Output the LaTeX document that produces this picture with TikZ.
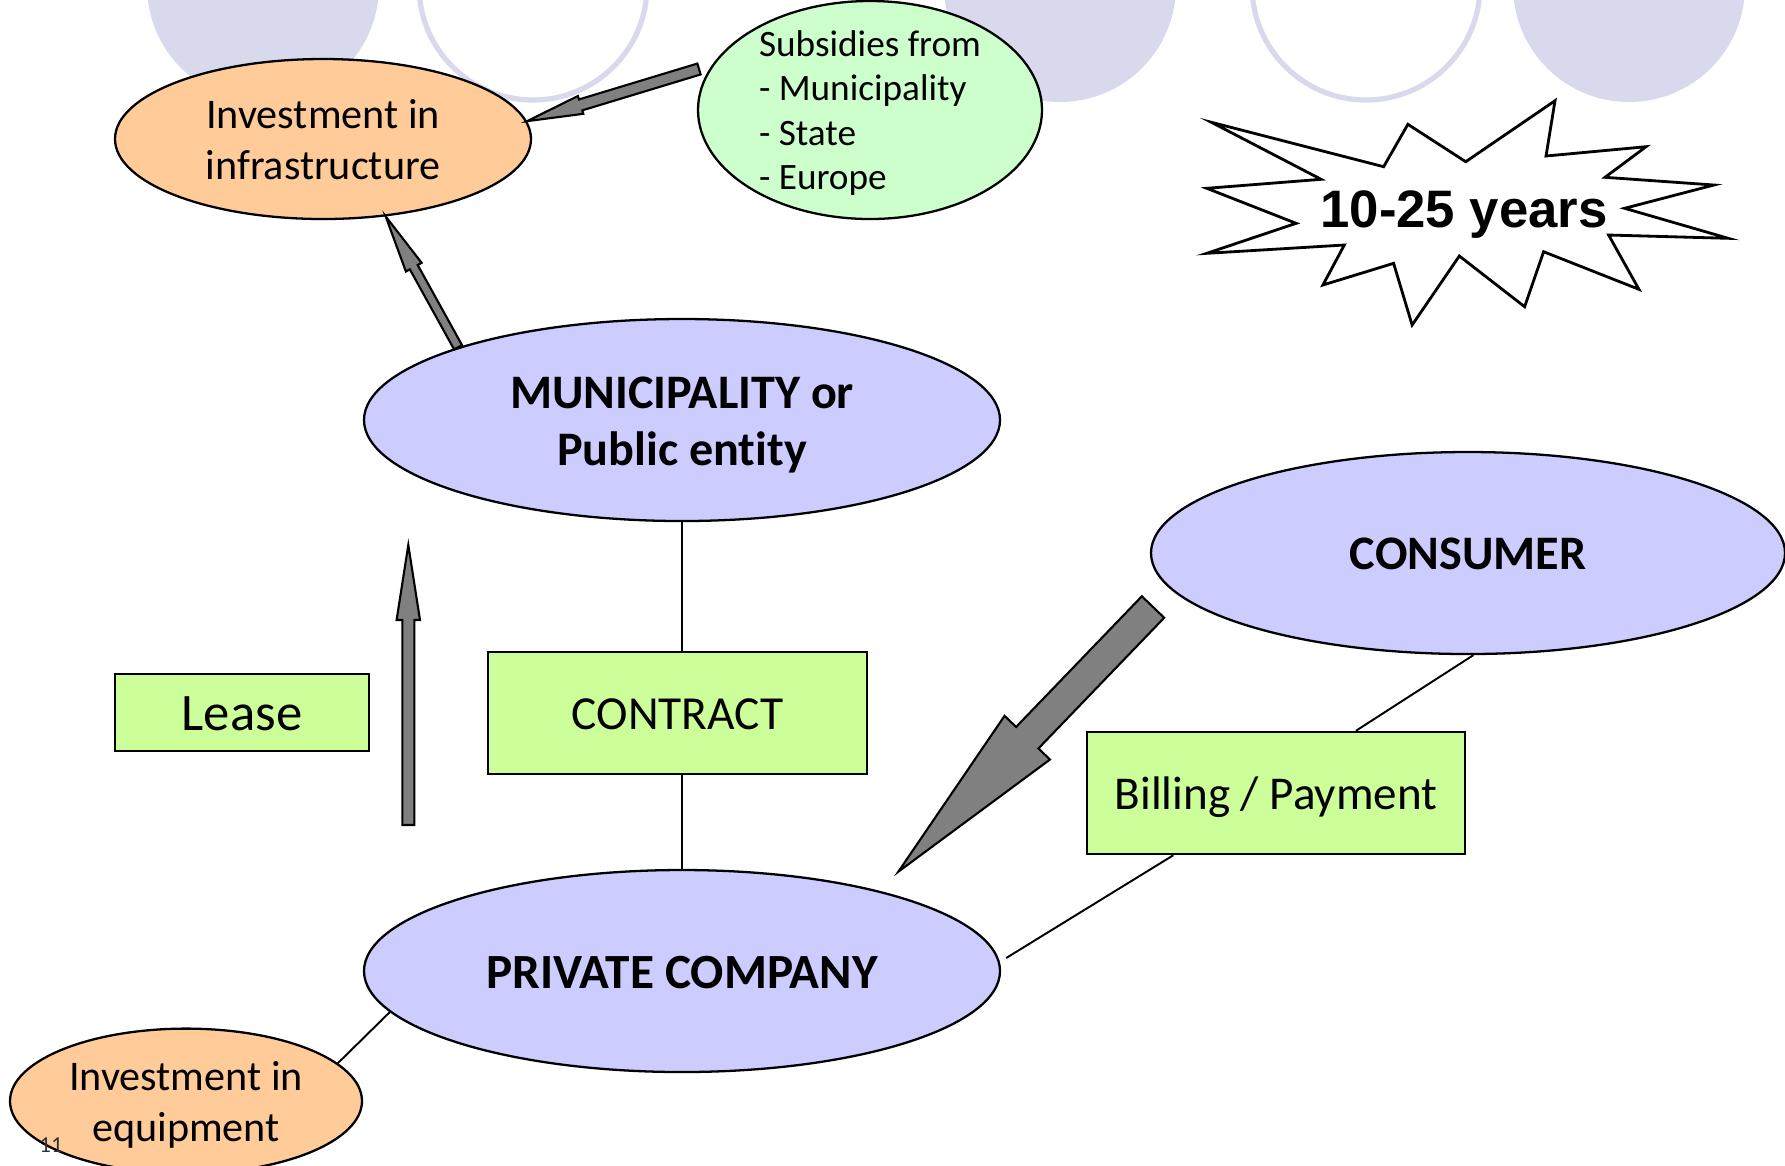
\documentclass[tikz,border=0pt]{standalone}
\usepackage{fontspec}
\setmainfont{Carlito}[Ligatures=NoCommon]
\newfontfamily\arialfont{Liberation Sans}
\usepackage{xcolor}
\usetikzlibrary{shapes.geometric,calc}

\definecolor{lavbg}{RGB}{217,217,238}
\definecolor{peach}{RGB}{255,204,153}
\definecolor{mint}{RGB}{204,255,204}
\definecolor{periwinkle}{RGB}{204,204,255}
\definecolor{lime}{RGB}{204,255,153}
\definecolor{arrowgray}{RGB}{128,128,128}

\newcommand{\linestrut}{\rule[-0.26em]{0pt}{1.22em}}

\newcommand{\blockarrow}[5]{%
  \draw[fatarrow]
    ($(#1)!#3!90:(#2)$)
    -- ($($(#2)!#5!(#1)$)!#3!90:(#2)$)
    -- ($($(#2)!#5!(#1)$)!#4!90:(#2)$)
    -- (#2)
    -- ($($(#2)!#5!(#1)$)!#4!-90:(#2)$)
    -- ($($(#2)!#5!(#1)$)!#3!-90:(#2)$)
    -- ($(#1)!#3!-90:(#2)$) -- cycle;}

\begin{document}
\begin{tikzpicture}[
    struts/.style={execute at begin node={\linestrut}, execute at end node={\linestrut}},
    blob/.style={ellipse, draw, line width=0.65pt, inner sep=0pt, align=center, struts},
    investblob/.style={blob, fill=peach, font=\fontsize{12}{14.5}\selectfont},
    actorblob/.style={blob, fill=periwinkle, minimum width=6.36cm, minimum height=2.02cm,
        font=\bfseries\fontsize{13.7}{16.2}\selectfont},
    tagbox/.style={rectangle, draw, fill=lime, line width=0.7pt, inner sep=0pt, struts,
        font=\fontsize{13.5}{16}\selectfont},
    link/.style={line width=0.55pt},
    fatarrow/.style={draw, fill=arrowgray, line width=0.6pt, line join=miter},
    disc/.style={fill=lavbg},
    ring/.style={draw=lavbg, fill=white, line width=1.5pt}]

    \useasboundingbox (0,0) rectangle (17.85,-11.65);

    \fill[disc] (2.63,0.14) circle (1.16);
    \draw[ring] (5.33,0.14) circle (1.14);
    \fill[disc] (10.60,0.14) circle (1.16);
    \draw[ring] (13.66,0.14) circle (1.14);
    \fill[disc] (16.29,0.14) circle (1.16);

    \node[investblob, minimum width=4.16cm, minimum height=1.60cm] (infra) at (3.23,-1.39) {\linestrut Investment in\\infrastructure};
    \node[blob, fill=mint, minimum width=3.44cm, minimum height=2.18cm, align=left, inner ysep=-7pt,
        font=\fontsize{10.6}{12.6}\selectfont] (subs) at (8.70,-1.10) {\linestrut Subsidies from\\- Municipality\\- State\\- Europe};

    \node[actorblob] (muni) at (6.82,-4.20) {\linestrut MUNICIPALITY or\\Public entity};
    \node[actorblob, minimum width=6.34cm] (consumer) at (14.68,-5.53) {CONSUMER};
    \node[actorblob, font=\bfseries\fontsize{14}{16.2}\selectfont] (private) at (6.82,-9.71) {PRIVATE COMPANY};
    \node[investblob, minimum width=3.52cm, minimum height=1.26cm] (equip) at (1.86,-11.01) {\linestrut Investment in\\equipment};
    \node[font=\fontsize{6.5}{8}\selectfont, text=black!80] (pagenum) at (0.51,-11.45) {11};

    \node[tagbox, minimum width=2.54cm, minimum height=0.77cm, font=\fontsize{15}{18}\selectfont] (lease) at (2.42,-7.125) {Lease};
    \node[tagbox, minimum width=3.79cm, minimum height=1.22cm] (contract) at (6.775,-7.13) {CONTRACT};
    \node[tagbox, minimum width=3.78cm, minimum height=1.22cm, font=\fontsize{13.4}{16}\selectfont] (billing) at (12.76,-7.93) {Billing / Payment};

    \draw[link] (muni.south) -- (muni.south |- contract.north);
    \draw[link] (contract.south -| private.north) -- (private.north);
    \draw[link] (consumer.-87) -- ($(billing.north)!0.42!(billing.north east)$);
    \draw[link] ($(billing.south west)!0.23!(billing.south east)$) -- ($(private.east)+(0.05,0.13)$);
    \draw[link] (private.188) -- (equip.14);

    \coordinate (substail) at (6.99,-0.69);
    \coordinate (leasetail) at (4.083,-8.25);
    \coordinate (leasetip) at (4.083,-5.45);
    \coordinate (paytail) at (11.53,-6.07);
    \coordinate (paytip) at (8.983,-8.717);

    \blockarrow{substail}{infra.5}{0.057cm}{0.093cm}{0.56cm}
    \blockarrow{muni.162}{infra.-51}{0.045cm}{0.09cm}{0.58cm}
    \blockarrow{leasetail}{leasetip}{0.06cm}{0.117cm}{0.75cm}
    \blockarrow{paytail}{paytip}{0.155cm}{0.315cm}{1.86cm}

    \draw[line width=0.8pt, fill=white, line join=miter]
        (12.114,-1.223) -- (13.836,-1.667) -- (14.079,-1.243) -- (14.657,-1.617)
        -- (15.55,-1.007) -- (15.46,-1.56) -- (16.46,-1.467) -- (16.05,-1.773)
        -- (17.139,-1.85) -- (16.246,-2.083) -- (17.282,-2.383) -- (16.086,-2.35)
        -- (16.389,-2.893) -- (15.436,-2.517) -- (15.246,-3.067) -- (14.593,-2.56)
        -- (14.121,-3.25) -- (13.936,-2.633) -- (13.229,-2.85) -- (13.443,-2.45)
        -- (12.068,-2.533) -- (12.961,-2.233) -- (12.068,-1.883) -- (13.211,-1.793) -- cycle;
    \node[struts, font=\arialfont\bfseries\fontsize{15}{18}\selectfont] (span) at (14.64,-2.09) {10-25 years};
\end{tikzpicture}
\end{document}
